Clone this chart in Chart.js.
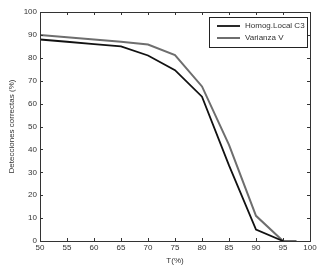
<!DOCTYPE html>
<html>
<head>
<meta charset="utf-8">
<script src="https://cdn.jsdelivr.net/npm/chart.js@4.4.0/dist/chart.umd.min.js"></script>
<style>
  html, body { margin: 0; padding: 0; background: #fff; }
  #wrap { width: 329px; height: 266px; }
</style>
</head>
<body>
<div id="wrap"><canvas id="chart" width="329" height="266"></canvas></div>
<script>
const thresholdsHomog = [50, 55, 60, 65, 70, 75, 80, 85, 90, 95];
const homogLocalC3 = [88, 87, 86, 85, 81, 74.6, 63, 33, 5, 0];
const thresholdsVar = [50, 55, 60, 65, 70, 75, 80, 85, 90, 95, 97.5];
const varianzaV = [90, 89, 88, 87, 85.8, 81.2, 67.5, 42, 11, 0, 0];
const xTicks = [50, 55, 60, 65, 70, 75, 80, 85, 90, 95, 100];
const yTicks = [0, 10, 20, 30, 40, 50, 60, 70, 80, 90, 100];

const toPoints = (xs, ys) => xs.map((x, i) => ({ x: x, y: ys[i] }));

// matlab style box, inward ticks and legend
const matlabFrame = {
  id: "matlabFrame",
  afterDraw(chart) {
    const ctx = chart.ctx;
    const a = chart.chartArea;
    const xs = chart.scales.x;
    const ys = chart.scales.y;
    ctx.save();
    ctx.strokeStyle = "#333";
    ctx.lineWidth = 1;
    ctx.strokeRect(a.left + 0.5, a.top + 0.5, a.right - a.left, a.bottom - a.top);
    ctx.beginPath();
    xTicks.forEach((v) => {
      const px = Math.round(xs.getPixelForValue(v)) + 0.5;
      ctx.moveTo(px, a.bottom);
      ctx.lineTo(px, a.bottom - 3);
      ctx.moveTo(px, a.top);
      ctx.lineTo(px, a.top + 3);
    });
    yTicks.forEach((v) => {
      const py = Math.round(ys.getPixelForValue(v)) + 0.5;
      ctx.moveTo(a.left, py);
      ctx.lineTo(a.left + 3, py);
      ctx.moveTo(a.right, py);
      ctx.lineTo(a.right - 3, py);
    });
    ctx.stroke();

    // legend
    const lx = 209, ly = 17, lw = 98, lh = 30;
    ctx.fillStyle = "#fff";
    ctx.fillRect(lx, ly, lw, lh);
    ctx.strokeStyle = "#222";
    ctx.strokeRect(lx + 0.5, ly + 0.5, lw, lh);
    ctx.font = "8px 'Liberation Sans', Arial, sans-serif";
    ctx.textBaseline = "middle";
    chart.data.datasets.forEach((ds, i) => {
      const yy = ly + 9 + i * 12;
      ctx.strokeStyle = ds.borderColor;
      ctx.lineWidth = ds.borderWidth;
      ctx.beginPath();
      ctx.moveTo(lx + 8, yy);
      ctx.lineTo(lx + 31, yy);
      ctx.stroke();
      ctx.fillStyle = "#333";
      ctx.fillText(ds.label, lx + 36, yy);
    });
    ctx.restore();
  },
};

const chartConfig = {
  type: "line",
  data: {
    datasets: [
      {
        label: "Homog.Local C3",
        data: toPoints(thresholdsHomog, homogLocalC3),
        borderColor: "#111",
        borderWidth: 1.8,
        pointRadius: 0,
        tension: 0,
      },
      {
        label: "Varianza V",
        data: toPoints(thresholdsVar, varianzaV),
        borderColor: "#6e6e6e",
        borderWidth: 2,
        pointRadius: 0,
        tension: 0,
      },
    ],
  },
  options: {
    responsive: false,
    animation: false,
    layout: {
      padding: { left: 0, right: 19, top: 12, bottom: 0 },
    },
    scales: {
      x: {
        type: "linear",
        min: 50,
        max: 100,
        afterFit: (scale) => { scale.height = 25; },
        afterBuildTicks: (scale) => { scale.ticks = xTicks.map((v) => ({ value: v })); },
        grid: { display: false, drawTicks: false },
        border: { display: false },
        ticks: {
          padding: 2,
          color: "#333",
          font: { family: "'Liberation Sans', Arial, sans-serif", size: 8 },
        },
        title: {
          display: true,
          text: "T(%)",
          color: "#333",
          padding: { top: 1, bottom: 0 },
          font: { family: "'Liberation Sans', Arial, sans-serif", size: 8 },
        },
      },
      y: {
        min: 0,
        max: 100,
        afterFit: (scale) => { scale.width = 40; },
        afterBuildTicks: (scale) => { scale.ticks = yTicks.map((v) => ({ value: v })); },
        grid: { display: false, drawTicks: false },
        border: { display: false },
        ticks: {
          padding: 3,
          color: "#333",
          font: { family: "'Liberation Sans', Arial, sans-serif", size: 8 },
        },
        title: {
          display: true,
          text: "Detecciones correctas (%)",
          color: "#333",
          padding: { top: 7, bottom: 0 },
          font: { family: "'Liberation Sans', Arial, sans-serif", size: 8 },
        },
      },
    },
    plugins: {
      legend: { display: false },
      tooltip: { enabled: false },
    },
  },
  plugins: [matlabFrame],
};

window.mainChart = new Chart(document.getElementById("chart"), chartConfig);
</script>
</body>
</html>
